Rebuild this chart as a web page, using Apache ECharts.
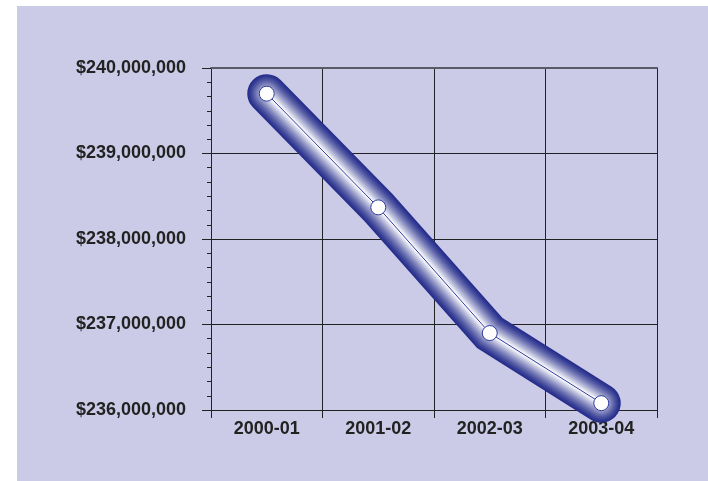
<!DOCTYPE html>
<html>
<head>
<meta charset="utf-8">
<script src="https://cdn.jsdelivr.net/npm/echarts@6/dist/echarts.min.js"></script>
<style>
  html, body { margin: 0; padding: 0; background: #ffffff; }
  #frame { position: absolute; left: 17px; top: 6px; width: 691px; height: 475px; background: #cbcbe7; }
  #chart { position: absolute; left: 0; top: 0; width: 708px; height: 481px; }
</style>
</head>
<body>
<div id="frame"></div>
<div id="chart"></div>
<script>
// Fiscal years and the amounts for each
const categories = ['2000-01', '2001-02', '2002-03', '2003-04'];
const amounts = [239700000, 238370000, 236900000, 236080000];
// Value axis range and step
const yMin = 236000000;
const yMax = 240000000;
const yStep = 1000000;

const chart = echarts.init(document.getElementById('chart'), null, { renderer: 'canvas' });

// Shaded "tube" around the line: stacked strokes from dark rim to white core
const tubeWidth = 39;
const layers = 20;
const rim = [38, 46, 140];
function mix(t) {
  const c = rim.map(v => Math.round(v + (255 - v) * t));
  return 'rgb(' + c.join(',') + ')';
}
const tubeSeries = [];
for (let i = 0; i < layers; i++) {
  const f = i / (layers - 1);
  const w = tubeWidth * (1 - f) + 2 * f;
  const t = Math.pow(f, 1.3);
  tubeSeries.push({
    type: 'line',
    data: amounts,
    symbol: 'none',
    silent: true,
    z: 3 + i * 0.01,
    lineStyle: { width: w, color: mix(t), cap: 'round', join: 'miter' }
  });
}

const fmt = v => '$' + String(v).replace(/\B(?=(\d{3})+(?!\d))/g, ',');

const labelFont = {
  color: '#222',
  fontFamily: 'Liberation Sans, Arial, sans-serif',
  fontWeight: 'bold',
  fontSize: 18
};

chart.setOption({
  animation: false,
  backgroundColor: 'transparent',
  grid: { left: 211, right: 51, top: 68, bottom: 71, containLabel: false },
  xAxis: [{
    type: 'category',
    data: categories,
    boundaryGap: true,
    axisLine: { show: true, lineStyle: { color: '#222', width: 1 } },
    axisTick: { show: true, length: 8, lineStyle: { color: '#222' } },
    splitLine: { show: true, lineStyle: { color: '#222', width: 1 } },
    axisLabel: Object.assign({ margin: 10 }, labelFont)
  }, {
    type: 'category',
    position: 'top',
    data: categories,
    axisLine: { show: true, lineStyle: { color: '#5a5a66', width: 2 } },
    axisTick: { show: false },
    axisLabel: { show: false }
  }],
  yAxis: [{
    type: 'value',
    min: yMin,
    max: yMax,
    interval: yStep,
    axisLine: { show: true, lineStyle: { color: '#222', width: 1 } },
    axisTick: { show: true, length: 9, lineStyle: { color: '#222' } },
    minorTick: { show: true, splitNumber: 6, length: 4, lineStyle: { color: '#222' } },
    splitLine: { show: true, lineStyle: { color: '#222', width: 1 } },
    axisLabel: Object.assign({ margin: 25, padding: [0, 0, 6, 0], formatter: fmt }, labelFont)
  }, {
    type: 'value',
    position: 'right',
    min: yMin,
    max: yMax,
    interval: yStep,
    axisLine: { show: true, lineStyle: { color: '#222', width: 1 } },
    axisTick: { show: false },
    axisLabel: { show: false },
    splitLine: { show: false }
  }],
  series: tubeSeries.concat([{
    type: 'line',
    data: amounts,
    z: 5,
    symbol: 'circle',
    symbolSize: 15,
    itemStyle: { color: '#ffffff', borderColor: '#2e3a9c', borderWidth: 1 },
    lineStyle: { width: 1, color: '#2e3a9c' }
  }])
});
</script>
</body>
</html>
